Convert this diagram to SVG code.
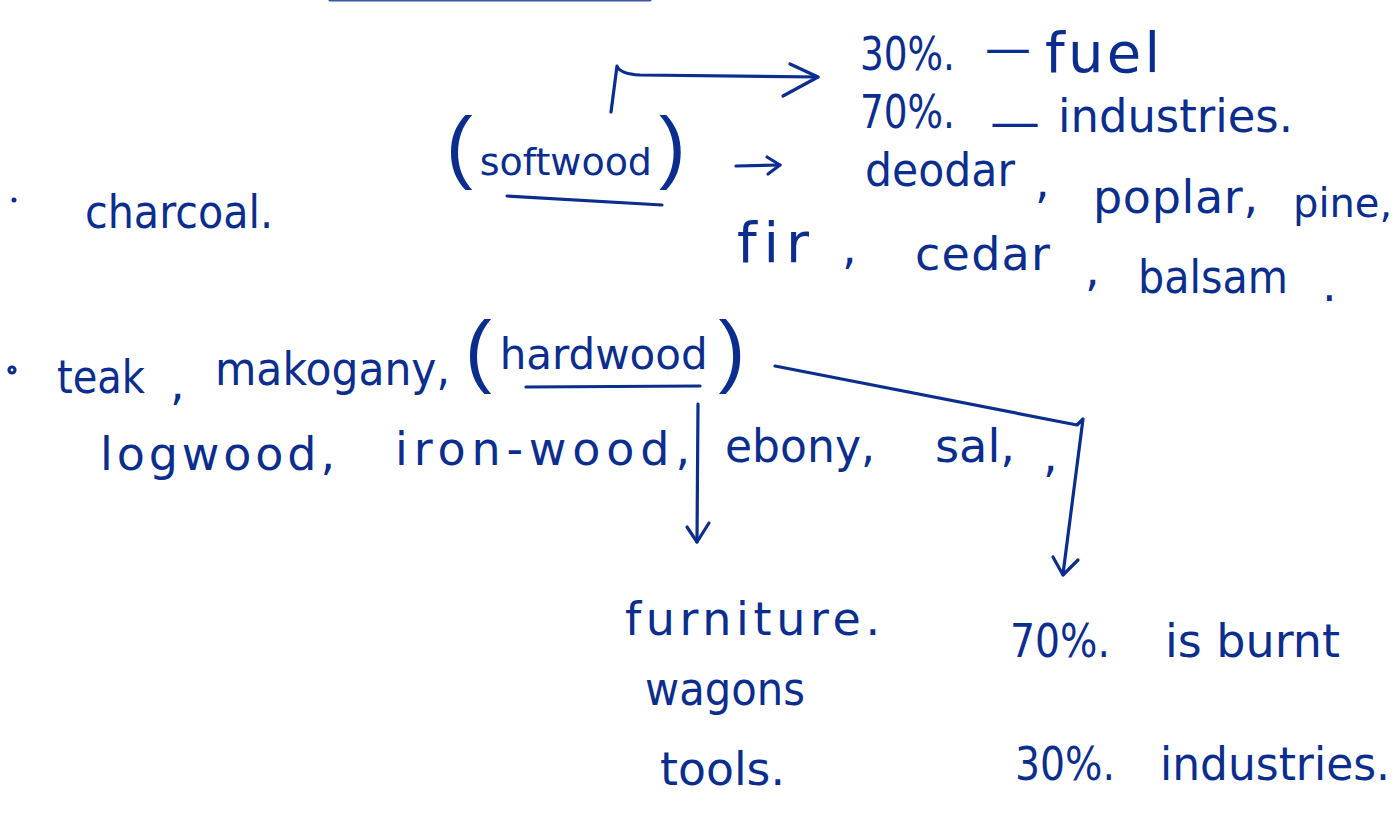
<svg xmlns="http://www.w3.org/2000/svg" width="1399" height="819" viewBox="0 0 1399 819">
  <style>
    .ink { fill: #0b2e8e; font-family: "DejaVu Sans", "Liberation Sans", sans-serif; font-size: 46px; font-variant-ligatures: none; }
    .big { font-size: 56px; }
    .small { font-size: 40px; }
    .paren { font-family: "Liberation Sans", "DejaVu Sans", sans-serif; font-size: 80px; }
    .stroke { fill: none; stroke: #0b2e8e; stroke-width: 3.2; stroke-linecap: round; stroke-linejoin: round; }
  </style>
  <rect width="1399" height="819" fill="#ffffff"/>

  <!-- stroke running off the top edge -->
  <path class="stroke" d="M330 0 L650 0" stroke-opacity="0.8"/>

  <!-- softwood branch -->
  <g id="softwood">
    <text class="ink" x="446" y="173"><tspan class="paren">(</tspan><tspan dx="7" dy="2" font-size="38">softwood</tspan><tspan class="paren" dx="7" dy="-2">)</tspan></text>
    <path class="stroke" d="M507 196 L662 205"/>
  </g>

  <g id="softwood-use">
    <text class="ink" x="860" y="70" textLength="95" lengthAdjust="spacingAndGlyphs">30%.</text>
    <text class="ink" x="985" y="64" textLength="46" lengthAdjust="spacingAndGlyphs">—</text>
    <text class="ink big" x="1045" y="72" textLength="115" lengthAdjust="spacing">fuel</text>
    <text class="ink" x="860" y="128" textLength="95" lengthAdjust="spacingAndGlyphs">70%.</text>
    <text class="ink" x="990" y="138" textLength="50" lengthAdjust="spacingAndGlyphs">—</text>
    <text class="ink" x="1058" y="132" textLength="235" lengthAdjust="spacingAndGlyphs">industries.</text>
  </g>

  <g id="softwood-trees">
    <text class="ink" x="865" y="186" textLength="150" lengthAdjust="spacingAndGlyphs">deodar</text>
    <text class="ink" x="1035" y="198">,</text>
    <text class="ink" x="1093" y="213" textLength="165" lengthAdjust="spacing">poplar,</text>
    <text class="ink small" x="1293" y="217">pine,</text>
    <text class="ink big" x="737" y="262" textLength="72" lengthAdjust="spacing">fir</text>
    <text class="ink" x="842" y="264">,</text>
    <text class="ink" x="915" y="270" textLength="135" lengthAdjust="spacing">cedar</text>
    <text class="ink" x="1085" y="286">,</text>
    <text class="ink" x="1138" y="293" textLength="150" lengthAdjust="spacingAndGlyphs">balsam</text>
    <text class="ink" x="1322" y="301">.</text>
  </g>

  <g id="charcoal">
    <circle cx="14" cy="200" r="2.5" fill="#0b2e8e"/>
    <text class="ink" x="85" y="228" textLength="188" lengthAdjust="spacingAndGlyphs">charcoal.</text>
  </g>

  <!-- hardwood branch -->
  <g id="hardwood">
    <circle cx="12" cy="370" r="3" class="stroke" stroke-width="2.5"/>
    <text class="ink" x="57" y="393" textLength="88" lengthAdjust="spacingAndGlyphs">teak</text>
    <text class="ink" x="170" y="400">,</text>
    <text class="ink" x="215" y="385" textLength="235" lengthAdjust="spacingAndGlyphs">makogany,</text>
    <text class="ink" x="465" y="377"><tspan class="paren">(</tspan><tspan dx="8" dy="-8" font-size="42">hardwood</tspan><tspan class="paren" dx="11" dy="8">)</tspan></text>
    <path class="stroke" d="M526 387 L700 386"/>
    <text class="ink" x="100" y="470" textLength="235" lengthAdjust="spacing">logwood,</text>
    <text class="ink" x="395" y="465" textLength="295" lengthAdjust="spacing">iron-wood,</text>
    <text class="ink" x="725" y="462" textLength="150" lengthAdjust="spacingAndGlyphs">ebony,</text>
    <text class="ink" x="935" y="462" textLength="80" lengthAdjust="spacingAndGlyphs">sal,</text>
    <text class="ink" x="1043" y="472">,</text>
  </g>

  <g id="hardwood-products">
    <text class="ink" x="625" y="635" textLength="255" lengthAdjust="spacing">furniture.</text>
    <text class="ink" x="645" y="705" textLength="160" lengthAdjust="spacingAndGlyphs">wagons</text>
    <text class="ink" x="660" y="785" textLength="125" lengthAdjust="spacingAndGlyphs">tools.</text>
  </g>

  <g id="hardwood-use">
    <text class="ink" x="1010" y="657" textLength="100" lengthAdjust="spacingAndGlyphs">70%.</text>
    <text class="ink" x="1165" y="657" textLength="175" lengthAdjust="spacingAndGlyphs">is burnt</text>
    <text class="ink" x="1015" y="780" textLength="100" lengthAdjust="spacingAndGlyphs">30%.</text>
    <text class="ink" x="1160" y="780" textLength="230" lengthAdjust="spacingAndGlyphs">industries.</text>
  </g>

  <g id="connectors">
    <!-- softwood to its uses -->
    <path class="stroke" d="M611 112 L617 66 Q620 74 640 75 L818 77"/>
    <path class="stroke" d="M790 64 L818 77 L783 96"/>
    <!-- softwood to tree list -->
    <path class="stroke" d="M736 166 L780 165"/>
    <path class="stroke" d="M767 157 L780 165 L768 174"/>
    <!-- hardwood to products -->
    <path class="stroke" d="M698 404 L697 542"/>
    <path class="stroke" d="M687 527 L697 542 L709 523"/>
    <!-- hardwood to uses -->
    <path class="stroke" d="M775 366 L1077 425 L1083 419 L1063 574"/>
    <path class="stroke" d="M1053 557 L1063 575 L1078 560"/>
  </g>
</svg>
